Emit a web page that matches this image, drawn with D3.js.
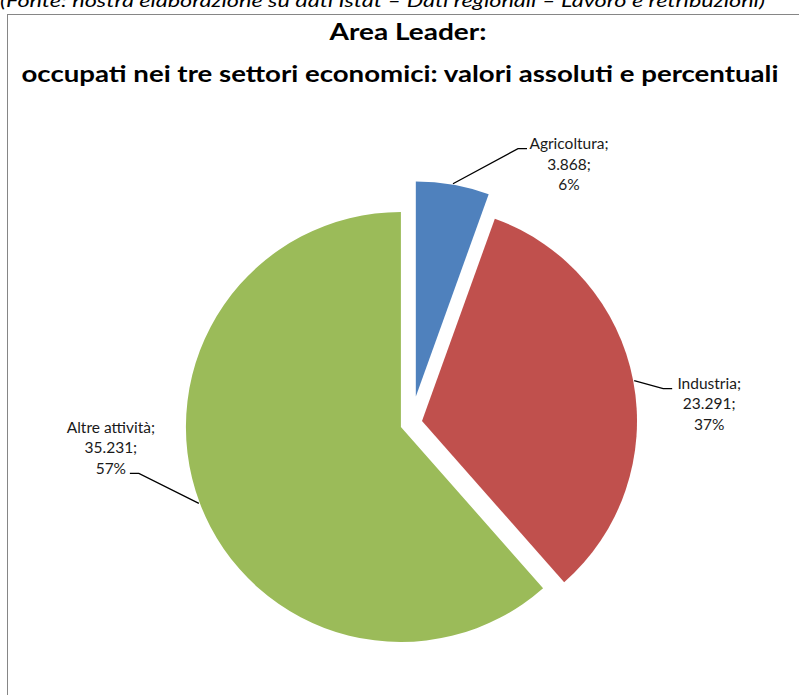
<!DOCTYPE html>
<html>
<head>
<meta charset="utf-8">
<script src="https://cdn.jsdelivr.net/npm/d3@7"></script>
<style>
  html, body { margin: 0; padding: 0; background: #fff; }
  svg { display: block; }
</style>
</head>
<body>
<svg id="chart" width="799" height="695"></svg>
<script>
// ---- data ----
const categories   = ["Agricoltura", "Industria", "Altre attività"];
const values       = [3868, 23291, 35231];          // as printed in the labels
const percentages  = [6, 37, 57];                    // as printed in the labels
// share of the circle each slice occupies as drawn in the reference (%)
const sliceShares  = [5.5, 33.0, 61.5];
const colors       = ["#4F81BD", "#C0504D", "#9BBB59"];
const sourceNote   = "(Fonte: nostra elaborazione su dati Istat – Dati regionali – Lavoro e retribuzioni)";
const titleLines   = ["Area Leader:", "occupati nei tre settori economici: valori assoluti e percentuali"];

// ---- layout ----
const svg = d3.select("#chart");
const cx = 411.2, cy = 423.1, R = 215;
const explode = [27, 11, 11];
const FONT = "Lato, 'Open Sans', 'DejaVu Sans', sans-serif";

const it = d3.formatLocale({decimal: ",", thousands: ".", grouping: [3], currency: ["€", ""]});
const fmt = it.format(",d");

// source note (partly above the page edge, as in the reference)
svg.append("text")
  .attr("x", 0).attr("y", 7)
  .attr("font-family", FONT).attr("font-style", "italic").attr("font-size", 17)
  .attr("textLength", 765).attr("lengthAdjust", "spacingAndGlyphs")
  .attr("fill", "#000")
  .text(sourceNote);

// chart frame
svg.append("rect")
  .attr("x", 7.5).attr("y", 14.5).attr("width", 900).attr("height", 900)
  .attr("fill", "#fff").attr("stroke", "#868686").attr("stroke-width", 1);

// title
svg.append("text")
  .attr("x", 408).attr("y", 40)
  .attr("text-anchor", "middle")
  .attr("font-family", FONT).attr("font-weight", "bold").attr("font-size", 23)
  .attr("textLength", 157).attr("lengthAdjust", "spacingAndGlyphs")
  .text(titleLines[0]);
svg.append("text")
  .attr("x", 400).attr("y", 82)
  .attr("text-anchor", "middle")
  .attr("font-family", FONT).attr("font-weight", "bold").attr("font-size", 23)
  .attr("textLength", 757).attr("lengthAdjust", "spacingAndGlyphs")
  .text(titleLines[1]);

// pie
const data = categories.map((c, i) => ({cat: c, value: values[i], pct: percentages[i], share: sliceShares[i], color: colors[i], ex: explode[i]}));
const pie = d3.pie().sort(null).value(d => d.share).startAngle(0).endAngle(2 * Math.PI);
const arc = d3.arc().innerRadius(0).outerRadius(R);
const arcs = pie(data);

arcs.forEach(a => {
  const mid = (a.startAngle + a.endAngle) / 2;
  a.ox = cx + a.data.ex * Math.sin(mid);
  a.oy = cy - a.data.ex * Math.cos(mid);
  a.px = a.ox + (R + 1) * Math.sin(mid);
  a.py = a.oy - (R + 1) * Math.cos(mid);
});

svg.append("g").selectAll("path")
  .data(arcs).join("path")
  .attr("transform", d => `translate(${d.ox},${d.oy})`)
  .attr("d", arc)
  .attr("fill", d => d.data.color);

// label placement relative to the arc anchor point
const labelLayout = [
  {elbow: [65, -35], end: [74, -35], text: [116, -40]},
  {elbow: [29, 8],   end: [38, 8],   text: [75, 3]},
  {elbow: [-60, -30], end: [-69, -30], text: [-88, -76]}
];
const lineGap = 20.5;

const lab = svg.append("g");
arcs.forEach((a, i) => {
  const L = labelLayout[i];
  lab.append("polyline")
    .attr("points", [[a.px, a.py], [a.px + L.elbow[0], a.py + L.elbow[1]], [a.px + L.end[0], a.py + L.end[1]]].map(p => p.join(",")).join(" "))
    .attr("fill", "none").attr("stroke", "#000").attr("stroke-width", 1.3);
  const lines = [a.data.cat + ";", fmt(a.data.value) + ";", a.data.pct + "%"];
  const t = lab.append("text")
    .attr("font-family", FONT).attr("font-size", 15.5).attr("fill", "#1a1a1a")
    .attr("text-anchor", "middle");
  lines.forEach((s, k) => {
    t.append("tspan")
      .attr("x", a.px + L.text[0])
      .attr("y", a.py + L.text[1] + k * lineGap)
      .attr("dy", "0.35em")
      .text(s);
  });
});
</script>
</body>
</html>
